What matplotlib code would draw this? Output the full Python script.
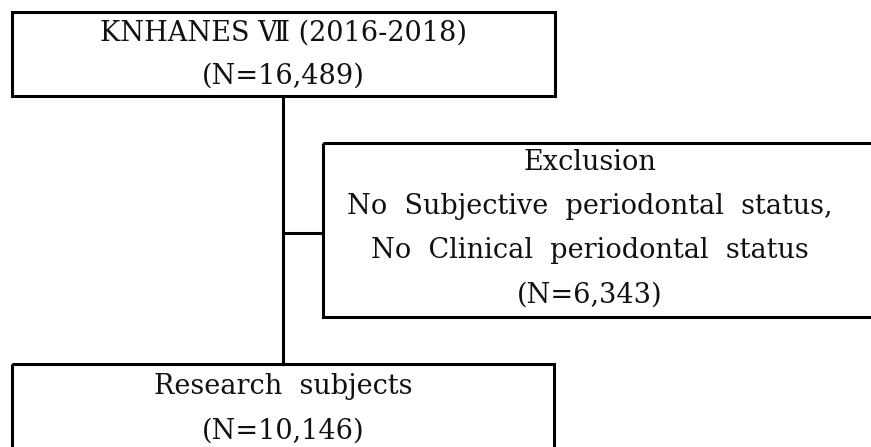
import matplotlib.pyplot as plt
from matplotlib.patches import Rectangle


# flow chart text, one list per box (wide word gaps as in the original)
TOP_LINES = ["KNHANES Ⅶ (2016-2018)", "(N=16,489)"]
EXCLUSION_LINES = [
    "Exclusion",
    "No  Subjective  periodontal  status,",
    "No  Clinical  periodontal  status",
    "(N=6,343)",
]
BOTTOM_LINES = ["Research  subjects", "(N=10,146)"]

FONT = ["DejaVu Serif", "DejaVu Sans"]


def draw_box(ax, x, y, w, h, lines, cx, ys, size=19.5):
    ax.add_patch(Rectangle((x, y), w, h, fill=False, lw=2.2, ec="black"))
    for line, ty in zip(lines, ys):
        ax.text(cx, ty, line, ha="center", va="center",
                fontsize=size, family=FONT, color="#111111")


def main():
    fig = plt.figure(figsize=(8.71, 4.47), dpi=100)
    ax = fig.add_axes([0, 0, 1, 1])
    ax.set_xlim(0, 871)
    ax.set_ylim(447, 0)
    ax.axis("off")

    # connectors
    ax.plot([283, 283], [96, 364], color="black", lw=2.2)
    ax.plot([283, 323], [233, 233], color="black", lw=2.2)

    draw_box(ax, 12, 12, 543, 84, TOP_LINES, 283, [33, 76])
    draw_box(ax, 323, 143, 600, 174, EXCLUSION_LINES, 590,
             [162, 206, 251, 295])
    draw_box(ax, 12, 364, 542, 120, BOTTOM_LINES, 283, [386, 431])

    fig.savefig("out.png", dpi=100)


main()
